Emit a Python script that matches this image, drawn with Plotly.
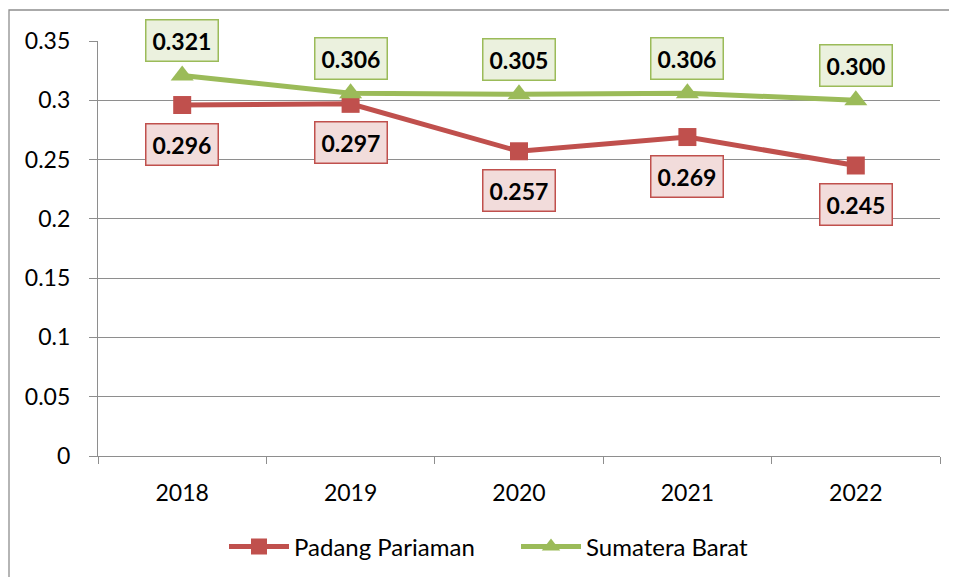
import plotly.graph_objects as go

years = ["2018", "2019", "2020", "2021", "2022"]
padang = [0.296, 0.297, 0.257, 0.269, 0.245]
sumbar = [0.321, 0.306, 0.305, 0.306, 0.300]
y_ticks = [0, 0.05, 0.1, 0.15, 0.2, 0.25, 0.3, 0.35]

RED = "#C0504D"
GREEN = "#9BBB59"
GRID = "#8E8E8E"
FONT = "Lato, Calibri, Noto Sans, sans-serif"

fig = go.Figure()
fig.add_trace(go.Scatter(
    x=years, y=padang, name="Padang Pariaman", mode="lines+markers",
    line=dict(color=RED, width=5),
    marker=dict(symbol="square", size=18, color=RED),
))
fig.add_trace(go.Scatter(
    x=years, y=sumbar, name="Sumatera Barat", mode="lines+markers",
    line=dict(color=GREEN, width=5),
    marker=dict(symbol="triangle-up", size=20, color=GREEN),
))

for i, v in enumerate(sumbar):
    fig.add_annotation(x=i, y=v, xref="x", yref="y", text="<b>%.3f</b>" % v,
                       showarrow=False, yshift=35,
                       font=dict(family=FONT, size=23, color="black"),
                       bgcolor="#EBF1DE", bordercolor=GREEN, borderwidth=1.5,
                       borderpad=6)
for i, v in enumerate(padang):
    fig.add_annotation(x=i, y=v, xref="x", yref="y", text="<b>%.3f</b>" % v,
                       showarrow=False, yshift=-39,
                       font=dict(family=FONT, size=23, color="black"),
                       bgcolor="#F2DCDB", bordercolor=RED, borderwidth=1.5,
                       borderpad=6)

# outer chart border (left and top visible)
fig.add_shape(type="rect", xref="paper", yref="paper",
              x0=(1 - 90) / 842, x1=1.2, y0=-0.5, y1=(448 - 2) / 415,
              line=dict(color=GRID, width=1.3), layer="below")

fig.update_layout(
    width=949, height=569,
    margin=dict(l=90, r=17, t=33, b=121),
    paper_bgcolor="white", plot_bgcolor="white",
    font=dict(family=FONT, size=23, color="black"),
    showlegend=True,
    legend=dict(orientation="h", xref="container", yref="container",
                x=216 / 949, xanchor="left", y=30 / 569, yanchor="middle",
                font=dict(size=24), itemwidth=60,
                entrywidth=217, traceorder="normal"),
    hovermode=False,
)
fig.update_xaxes(
    type="category", range=[-0.5, 4.5], showgrid=False,
    showline=True, linecolor=GRID, linewidth=1.3,
    ticks="outside", tickson="boundaries", ticklen=7, tickcolor=GRID,
    tickwidth=1.3, ticklabelstandoff=16, tickfont=dict(size=23),
    zeroline=False,
)
fig.update_yaxes(
    range=[0, 0.35], tickvals=y_ticks, ticktext=[("%g" % t) for t in y_ticks],
    showgrid=True, gridcolor=GRID, gridwidth=1.3,
    showline=True, linecolor=GRID, linewidth=1.3,
    ticks="outside", ticklen=8, tickcolor=GRID, tickwidth=1.3,
    ticklabelstandoff=14, tickfont=dict(size=23), zeroline=False,
)

fig.write_html("out.html")
